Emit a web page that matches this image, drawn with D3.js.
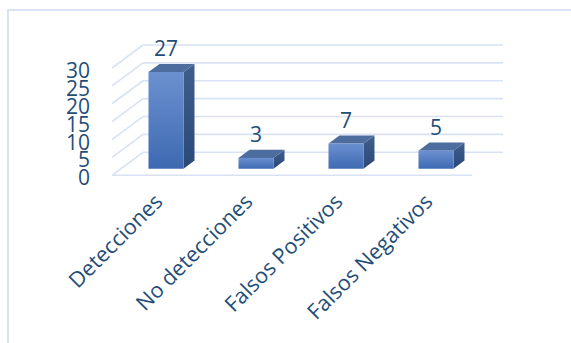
<!DOCTYPE html>
<html>
<head>
<meta charset="utf-8">
<script src="https://cdn.jsdelivr.net/npm/d3@7"></script>
<style>
  html, body { margin: 0; padding: 0; background: #ffffff; }
  svg { display: block; }
  text { font-family: "Open Sans", "Noto Sans", sans-serif; fill: #1f4e79; }
</style>
</head>
<body>
<div id="chart"></div>
<script>
// Chart data
const categories = ["Detecciones", "No detecciones", "Falsos Positivos", "Falsos Negativos"];
const values = [27, 3, 7, 5];
const yTicks = [0, 5, 10, 15, 20, 25, 30];

const W = 571, H = 343;
const svg = d3.select("#chart").append("svg").attr("width", W).attr("height", H);

// Outer frame (left and top edges)
svg.append("path")
  .attr("d", `M8,${H} L8,10 L${W},10`)
  .attr("fill", "none").attr("stroke", "#dae3f3").attr("stroke-width", 2);

// Back wall scales
const x = d3.scaleBand().domain(categories).range([143, 503]).padding(0);
const y = d3.scaleLinear().domain([0, 30]).range([152.3, 45]);

// Oblique depth projection: f=0 back wall, f=1 front edge
const DX = -31, DY = 23;
const px = (xv, f) => xv + DX * f;
const py = (yv, f) => yv + DY * f;

const gridColor = "#d9e2f3";
const grid = svg.append("g").attr("stroke", gridColor).attr("stroke-width", 1.6).attr("fill", "none");

// Back wall lines and side wall diagonals
yTicks.forEach(t => {
  grid.append("line")
    .attr("x1", x.range()[0]).attr("x2", x.range()[1])
    .attr("y1", y(t)).attr("y2", y(t));
  grid.append("line")
    .attr("x1", x.range()[0]).attr("y1", y(t))
    .attr("x2", px(x.range()[0], 1)).attr("y2", py(y(t), 1));
});
// Floor front edge
grid.append("line")
  .attr("x1", px(x.range()[0], 1)).attr("x2", px(x.range()[1], 1))
  .attr("y1", py(y(0), 1)).attr("y2", py(y(0), 1));

// Y axis labels on the front plane
svg.append("g").selectAll("text").data(yTicks).join("text")
  .attr("x", 90)
  .attr("y", d => py(y(d), 1) + 2)
  .attr("text-anchor", "end")
  .attr("dominant-baseline", "central")
  .attr("font-size", 21)
  .text(d => d);

// Bar gradients
const defs = svg.append("defs");
const gFront = defs.append("linearGradient").attr("id", "gFront")
  .attr("x1", 0).attr("y1", 0).attr("x2", 0).attr("y2", 1);
gFront.append("stop").attr("offset", "0%").attr("stop-color", "#6b90cf");
gFront.append("stop").attr("offset", "100%").attr("stop-color", "#3e6ab2");
const gSide = defs.append("linearGradient").attr("id", "gSide")
  .attr("x1", 0).attr("y1", 0).attr("x2", 0).attr("y2", 1);
gSide.append("stop").attr("offset", "0%").attr("stop-color", "#3f5e8e");
gSide.append("stop").attr("offset", "100%").attr("stop-color", "#2a4977");

// 3D bars: front face at fFront, back face at fBack
const fFront = 0.71, fBack = 0.355;
const barW = 35;
const bars = svg.append("g");
categories.forEach((c, i) => {
  const v = values[i];
  const xl = x(c) + (x.bandwidth() - barW) / 2;
  const xr = xl + barW;
  const yt = y(v), yb = y(0);
  const P = (xv, yv, f) => [px(xv, f), py(yv, f)];
  const poly = pts => "M" + pts.map(p => p.join(",")).join("L") + "Z";
  const g = bars.append("g");
  // side face
  g.append("path")
    .attr("d", poly([P(xr, yt, fFront), P(xr, yt, fBack), P(xr, yb, fBack), P(xr, yb, fFront)]))
    .attr("fill", "url(#gSide)");
  // top face
  g.append("path")
    .attr("d", poly([P(xl, yt, fFront), P(xl, yt, fBack), P(xr, yt, fBack), P(xr, yt, fFront)]))
    .attr("fill", "#4e6d9f");
  // front face
  g.append("path")
    .attr("d", poly([P(xl, yt, fFront), P(xr, yt, fFront), P(xr, yb, fFront), P(xl, yb, fFront)]))
    .attr("fill", "url(#gFront)");
  // value label
  svg.append("text")
    .attr("x", px(xl + barW / 2, fFront))
    .attr("y", py(yt, fFront) - 16)
    .attr("text-anchor", "middle")
    .attr("font-size", 21)
    .text(v);
});

// Category labels, rotated
svg.append("g").selectAll("text").data(categories).join("text")
  .attr("transform", d => `translate(${px(x(d) + x.bandwidth() / 2, 1) + 7},203) rotate(-45)`)
  .attr("text-anchor", "end")
  .attr("font-size", 21.5)
  .text(d => d);
</script>
</body>
</html>
